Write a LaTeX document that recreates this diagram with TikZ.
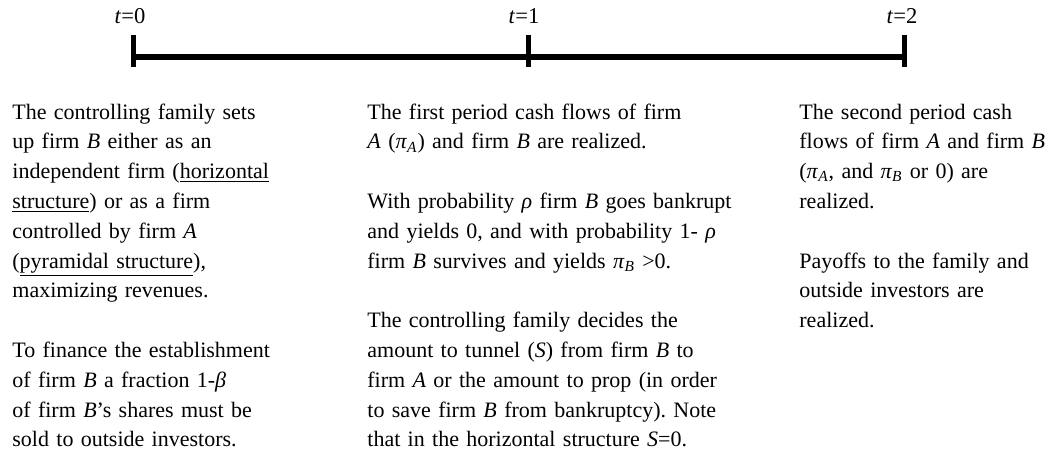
\documentclass[tikz,border=0pt]{standalone}
\usepackage{fontspec}
\setmainfont{Liberation Serif}
\frenchspacing
\begin{document}
\begin{tikzpicture}[x=0.5pt,y=-0.5pt,
  event/.style={anchor=base west,inner sep=0pt,align=left,
    font=\fontsize{11}{14.9}\selectfont},
  period/.style={anchor=base,inner sep=0pt,font=\fontsize{11.3}{14.9}\selectfont}]
  \useasboundingbox (0,0) rectangle (1048,462);
  % axe du temps
  \coordinate (t0) at (133,57);
  \coordinate (t1) at (528,57);
  \coordinate (t2) at (904,57);
  \draw[line width=3pt] (t0) -- (t2);
  \foreach \t in {t0,t1,t2}
    \draw[line width=2.5pt] ([yshift=11pt]\t) -- ([yshift=-5pt]\t);

  % dates
  \node[period] (d0) at ([xshift=-1.5pt,yshift=17pt]t0) {\textit{t}=0};
  \node[period] (d1) at ([xshift=-2pt,yshift=17pt]t1) {\textit{t}=1};
  \node[period] (d2) at ([xshift=-1pt,yshift=17pt]t2) {\textit{t}=2};

  % t=0
  \node[event,text width=140pt] (e0) at (12,119) {The controlling family sets\\
    up firm \textit{B} either as an\\
    independent firm (\underline{horizontal}\\
    \underline{structure}) or as a firm\\
    controlled by firm \textit{A}\\
    (\underline{pyramidal structure}),\\
    maximizing revenues.\\[\baselineskip]
    To finance the establishment\\
    of firm \textit{B} a fraction 1-\textit{β}\\
    of firm \textit{B}’s shares must be\\
    sold to outside investors.};

  % t=1
  \node[event,text width=200pt] (e1) at (367,119) {The first period cash flows of firm\\
    \textit{A} (\textit{π}\textsubscript{\textit{A}}) and firm \textit{B} are realized.\\[\baselineskip]
    With probability \textit{ρ} firm \textit{B} goes bankrupt\\
    and yields 0, and with probability 1- \textit{ρ}\\
    firm \textit{B} survives and yields \textit{π}\textsubscript{\textit{B}} >0.\\[\baselineskip]
    The controlling family decides the\\
    amount to tunnel (\textit{S}) from firm \textit{B} to\\
    firm \textit{A} or the amount to prop (in order\\
    to save firm \textit{B} from bankruptcy). Note\\
    that in the horizontal structure \textit{S}=0.};

  % t=2
  \node[event,text width=130pt] (e2) at (799,119) {The second period cash\\
    flows of firm \textit{A} and firm \textit{B}\\
    (\textit{π}\textsubscript{\textit{A}}, and \textit{π}\textsubscript{\textit{B}} or 0) are\\
    realized.\\[\baselineskip]
    Payoffs to the family and\\
    outside investors are\\
    realized.};
\end{tikzpicture}
\end{document}
